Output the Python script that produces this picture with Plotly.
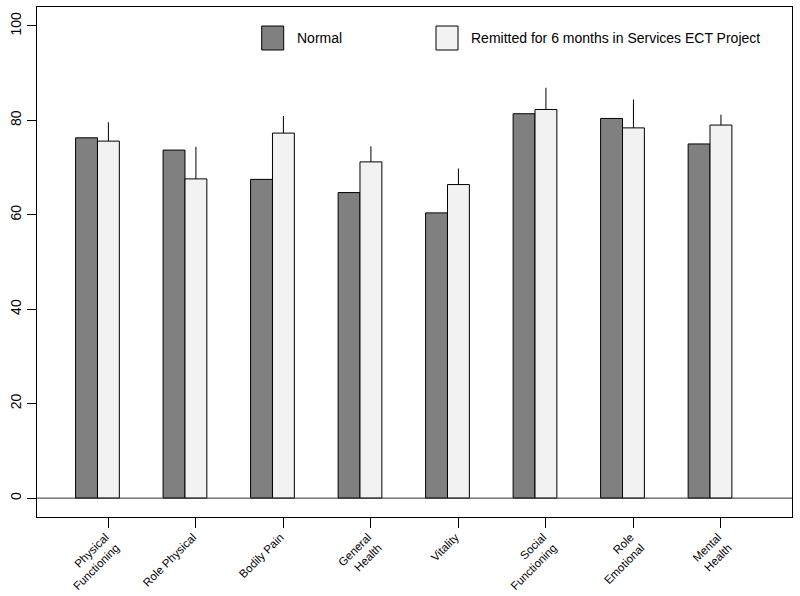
import plotly.graph_objects as go
import numpy as np

categories = ["Physical<br>Functioning", "Role Physical", "Bodily Pain", "General<br>Health",
              "Vitality", "Social<br>Functioning", "Role<br>Emotional", "Mental<br>Health"]
normal = [76.3, 73.7, 67.5, 64.7, 60.4, 81.4, 80.4, 75.0]
remitted = [75.6, 67.6, 77.3, 71.2, 66.4, 82.3, 78.4, 79.0]
remitted_err_up = [4.0, 6.8, 3.6, 3.3, 3.4, 4.6, 6.0, 2.2]
series_names = ["Normal", "Remitted for 6 months in Services ECT Project"]
y_ticks = [0, 20, 40, 60, 80, 100]

x = np.arange(len(categories))
FONT = "Arial, Liberation Sans, Helvetica, sans-serif"

fig = go.Figure()
fig.add_trace(go.Bar(x=x, y=normal, name=series_names[0],
                     marker=dict(color="#808080", line=dict(color="#000000", width=1)),
                     showlegend=False))
fig.add_trace(go.Bar(x=x, y=remitted, name=series_names[1],
                     marker=dict(color="#f2f2f2", line=dict(color="#000000", width=1)),
                     error_y=dict(type="data", symmetric=False, array=remitted_err_up,
                                  arrayminus=[0] * len(remitted), width=0,
                                  color="#000000", thickness=1),
                     showlegend=False))

fig.update_layout(
    width=800, height=596,
    margin=dict(l=37, r=8, t=7, b=79),
    paper_bgcolor="white", plot_bgcolor="white",
    barmode="group", bargap=0.5, bargroupgap=0,
    font=dict(family=FONT, color="#000000"),
)
fig.update_xaxes(range=[-0.691, 7.937], tickvals=x + 0.125, ticktext=categories,
                 tickangle=-45, ticks="outside", ticklen=10, tickcolor="#000",
                 tickfont=dict(size=11.5, family=FONT), showgrid=False, zeroline=False,
                 showline=True, linecolor="#000", linewidth=1, mirror=True,
                 automargin=False, ticklabelshift=-3, ticklabelstandoff=-2)
fig.update_yaxes(range=[-4, 104], tickvals=y_ticks, ticks="outside", ticklen=9,
                 tickcolor="#000", tickangle=-90, tickfont=dict(size=14, family=FONT),
                 showgrid=False, zeroline=False, showline=True, linecolor="#000",
                 linewidth=1, mirror=True, automargin=False)

# horizontal reference line at 0
fig.add_shape(type="line", xref="paper", yref="y", x0=0, x1=1, y0=0, y1=0,
              line=dict(color="#333333", width=1))

# legend (drawn as boxes + text, like the original)
W, H = 755.0, 510.0
def px(xp):
    return (xp - 37) / W
def py(yp):
    return (517 - yp) / H

legend_items = [(261.7, "#808080", series_names[0]), (436.0, "#f2f2f2", series_names[1])]
for x0, col, label in legend_items:
    fig.add_shape(type="rect", xref="paper", yref="paper",
                  x0=px(x0), x1=px(x0 + 22), y0=py(50), y1=py(26),
                  fillcolor=col, line=dict(color="#000000", width=1))
    fig.add_annotation(xref="paper", yref="paper", x=px(x0 + 33), y=py(38),
                       text=label, showarrow=False, xanchor="left", yanchor="middle",
                       font=dict(size=14, family=FONT, color="#000"))

fig.write_html("out.html", config={"displayModeBar": False},
               post_script="document.body.style.margin='0';")
